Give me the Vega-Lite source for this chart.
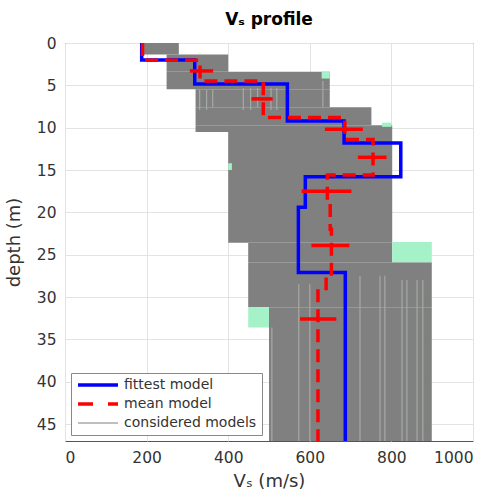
{
  "$schema": "https://vega.github.io/schema/vega-lite/v6.json",
  "width": 408,
  "height": 398,
  "autosize": {"type": "none"},
  "padding": {"left": 65, "top": 43, "right": 23, "bottom": 56},
  "background": "white",
  "title": {"text": "Vₛ profile", "font": "DejaVu Sans", "fontSize": 17, "fontWeight": "bold", "color": "#000000", "offset": 7, "anchor": "middle"},
  "config": {
    "view": {"stroke": "#555555", "strokeWidth": 1},
    "axis": {
      "labelFont": "DejaVu Sans", "labelFontSize": 15.5, "labelColor": "#333333",
      "titleFont": "DejaVu Sans", "titleFontSize": 18, "titleFontWeight": "normal", "titleColor": "#333333",
      "gridColor": "#e3e3e3", "domain": false, "ticks": false
    },
    "legend": {
      "orient": "bottom-left", "offset": 6, "fillColor": "white", "strokeColor": "#888888",
      "padding": 5, "labelFont": "DejaVu Sans", "labelFontSize": 14, "labelColor": "#333333",
      "symbolType": "M-1,0H7", "symbolSize": 100, "labelOffset": 34, "rowPadding": 5
    }
  },
  "datasets": {
    "fittest": [
      {"i": 0, "vs": 188, "depth": 0, "model": "fittest model"},
      {"i": 1, "vs": 188, "depth": 2.0, "model": "fittest model"},
      {"i": 2, "vs": 318, "depth": 2.0, "model": "fittest model"},
      {"i": 3, "vs": 318, "depth": 4.85, "model": "fittest model"},
      {"i": 4, "vs": 545, "depth": 4.85, "model": "fittest model"},
      {"i": 5, "vs": 545, "depth": 9.2, "model": "fittest model"},
      {"i": 6, "vs": 684, "depth": 9.2, "model": "fittest model"},
      {"i": 7, "vs": 684, "depth": 11.8, "model": "fittest model"},
      {"i": 8, "vs": 823, "depth": 11.8, "model": "fittest model"},
      {"i": 9, "vs": 823, "depth": 15.8, "model": "fittest model"},
      {"i": 10, "vs": 589, "depth": 15.8, "model": "fittest model"},
      {"i": 11, "vs": 589, "depth": 19.4, "model": "fittest model"},
      {"i": 12, "vs": 572, "depth": 19.4, "model": "fittest model"},
      {"i": 13, "vs": 572, "depth": 27.1, "model": "fittest model"},
      {"i": 14, "vs": 687, "depth": 27.1, "model": "fittest model"},
      {"i": 15, "vs": 687, "depth": 47, "model": "fittest model"}
    ],
    "mean": [
      {"i": 0, "vs": 190, "depth": 0, "model": "mean model"},
      {"i": 1, "vs": 190, "depth": 2.05, "model": "mean model"},
      {"i": 2, "vs": 331, "depth": 2.05, "model": "mean model"},
      {"i": 3, "vs": 331, "depth": 4.5, "model": "mean model"},
      {"i": 4, "vs": 486, "depth": 4.5, "model": "mean model"},
      {"i": 5, "vs": 486, "depth": 8.8, "model": "mean model"},
      {"i": 6, "vs": 686, "depth": 8.8, "model": "mean model"},
      {"i": 7, "vs": 686, "depth": 11.4, "model": "mean model"},
      {"i": 8, "vs": 755, "depth": 11.4, "model": "mean model"},
      {"i": 9, "vs": 755, "depth": 15.6, "model": "mean model"},
      {"i": 10, "vs": 643, "depth": 15.6, "model": "mean model"},
      {"i": 11, "vs": 643, "depth": 19.0, "model": "mean model"},
      {"i": 12, "vs": 650, "depth": 19.0, "model": "mean model"},
      {"i": 13, "vs": 650, "depth": 22.0, "model": "mean model"},
      {"i": 14, "vs": 653, "depth": 22.0, "model": "mean model"},
      {"i": 15, "vs": 653, "depth": 27.5, "model": "mean model"},
      {"i": 16, "vs": 640, "depth": 27.5, "model": "mean model"},
      {"i": 17, "vs": 640, "depth": 29.0, "model": "mean model"},
      {"i": 18, "vs": 620, "depth": 29.0, "model": "mean model"},
      {"i": 19, "vs": 620, "depth": 47, "model": "mean model"}
    ],
    "errbars": [
      {"depth": 3.3, "vs": 306, "vs2": 363},
      {"depth": 6.6, "vs": 457, "vs2": 509},
      {"depth": 10.2, "vs": 637, "vs2": 730},
      {"depth": 13.5, "vs": 718, "vs2": 788},
      {"depth": 17.5, "vs": 580, "vs2": 702},
      {"depth": 23.9, "vs": 604, "vs2": 697},
      {"depth": 32.6, "vs": 576, "vs2": 665}
    ],
    "considered": [
      {"vs": 192, "vs2": 279, "depth": 0, "depth2": 1.35, "model": "considered models"},
      {"vs": 249, "vs2": 400, "depth": 1.35, "depth2": 3.4, "model": "considered models"},
      {"vs": 249, "vs2": 649, "depth": 3.4, "depth2": 5.45, "model": "considered models"},
      {"vs": 320, "vs2": 649, "depth": 5.45, "depth2": 7.6, "model": "considered models"},
      {"vs": 320, "vs2": 751, "depth": 7.6, "depth2": 9.7, "model": "considered models"},
      {"vs": 320, "vs2": 802, "depth": 9.7, "depth2": 10.5, "model": "considered models"},
      {"vs": 400, "vs2": 802, "depth": 10.5, "depth2": 23.6, "model": "considered models"},
      {"vs": 449, "vs2": 802, "depth": 23.6, "depth2": 25.9, "model": "considered models"},
      {"vs": 449, "vs2": 899, "depth": 25.9, "depth2": 31.2, "model": "considered models"},
      {"vs": 500, "vs2": 899, "depth": 31.2, "depth2": 47, "model": "considered models"}
    ],
    "stripes": [
      {"vs": 330, "depth": 5.5, "depth2": 7.9},
      {"vs": 347, "depth": 5.5, "depth2": 7.9},
      {"vs": 362, "depth": 5.5, "depth2": 7.6},
      {"vs": 437, "depth": 5.3, "depth2": 7.9},
      {"vs": 455, "depth": 5.3, "depth2": 7.9},
      {"vs": 472, "depth": 5.3, "depth2": 7.6},
      {"vs": 505, "depth": 5.3, "depth2": 7.9},
      {"vs": 519, "depth": 5.3, "depth2": 7.9},
      {"vs": 632, "depth": 4.5, "depth2": 7.6},
      {"vs": 507, "depth": 33.6, "depth2": 47},
      {"vs": 573, "depth": 28.5, "depth2": 47},
      {"vs": 600, "depth": 28.5, "depth2": 47},
      {"vs": 723, "depth": 27.5, "depth2": 47},
      {"vs": 772, "depth": 27.5, "depth2": 47},
      {"vs": 784, "depth": 27.5, "depth2": 47},
      {"vs": 826, "depth": 28, "depth2": 47},
      {"vs": 838, "depth": 28, "depth2": 47},
      {"vs": 863, "depth": 28, "depth2": 47},
      {"vs": 877, "depth": 28, "depth2": 47}
    ],
    "green": [
      {"vs": 802, "vs2": 899, "depth": 23.5, "depth2": 25.9},
      {"vs": 449, "vs2": 500, "depth": 31.2, "depth2": 33.6},
      {"vs": 400, "vs2": 409, "depth": 14.2, "depth2": 15.0},
      {"vs": 629, "vs2": 649, "depth": 3.4, "depth2": 4.2},
      {"vs": 777, "vs2": 800, "depth": 9.4, "depth2": 9.9}
    ]
  },
  "layer": [
    {
      "data": {"name": "considered"},
      "mark": {"type": "rect"},
      "encoding": {
        "x": {"field": "vs", "type": "quantitative",
              "scale": {"domain": [0, 1000], "nice": false},
              "axis": {"values": [0, 200, 400, 600, 800, 1000], "format": "d", "title": "Vₛ (m/s)", "labelPadding": 9, "titlePadding": 7}},
        "x2": {"field": "vs2"},
        "y": {"field": "depth", "type": "quantitative",
              "scale": {"domain": [0, 47], "nice": false, "reverse": true},
              "axis": {"values": [0, 5, 10, 15, 20, 25, 30, 35, 40, 45], "format": "d", "title": "depth (m)", "labelPadding": 9, "titlePadding": 13}},
        "y2": {"field": "depth2"},
        "color": {"field": "model", "type": "nominal",
                  "scale": {"domain": ["fittest model", "mean model", "considered models"], "range": ["#0000ff", "#ff0000", "#808080"]},
                  "legend": {"title": null,
                             "encode": {"symbols": {"update": {
                               "stroke": {"signal": "scale('color', datum.value)"},
                               "fill": {"value": "transparent"},
                               "opacity": {"value": 1},
                               "strokeWidth": {"signal": "datum.value === 'considered models' ? 1 : 3.5"},
                               "strokeDash": {"signal": "datum.value === 'mean model' ? [15, 15] : [1, 0]"}
                             }}}}}
      }
    },
    {
      "data": {"name": "stripes"},
      "mark": {"type": "rule", "color": "#a4aaa4", "strokeWidth": 1.2},
      "encoding": {
        "x": {"field": "vs", "type": "quantitative"},
        "y": {"field": "depth", "type": "quantitative"},
        "y2": {"field": "depth2"}
      }
    },
    {
      "data": {"name": "green"},
      "mark": {"type": "rect", "color": "#a6f2c8"},
      "encoding": {
        "x": {"field": "vs", "type": "quantitative"},
        "x2": {"field": "vs2"},
        "y": {"field": "depth", "type": "quantitative"},
        "y2": {"field": "depth2"}
      }
    },
    {
      "data": {"name": "fittest"},
      "mark": {"type": "line", "strokeWidth": 3.5, "strokeJoin": "miter", "strokeCap": "butt"},
      "encoding": {
        "x": {"field": "vs", "type": "quantitative"},
        "y": {"field": "depth", "type": "quantitative"},
        "order": {"field": "i", "type": "quantitative"},
        "color": {"field": "model", "type": "nominal"}
      }
    },
    {
      "data": {"name": "mean"},
      "mark": {"type": "line", "strokeWidth": 3.5, "strokeDash": [13, 7], "strokeJoin": "miter", "strokeCap": "butt"},
      "encoding": {
        "x": {"field": "vs", "type": "quantitative"},
        "y": {"field": "depth", "type": "quantitative"},
        "order": {"field": "i", "type": "quantitative"},
        "color": {"field": "model", "type": "nominal"}
      }
    },
    {
      "data": {"name": "errbars"},
      "mark": {"type": "rule", "color": "#ff0000", "strokeWidth": 3.5},
      "encoding": {
        "x": {"field": "vs", "type": "quantitative"},
        "x2": {"field": "vs2"},
        "y": {"field": "depth", "type": "quantitative"}
      }
    }
  ]
}
